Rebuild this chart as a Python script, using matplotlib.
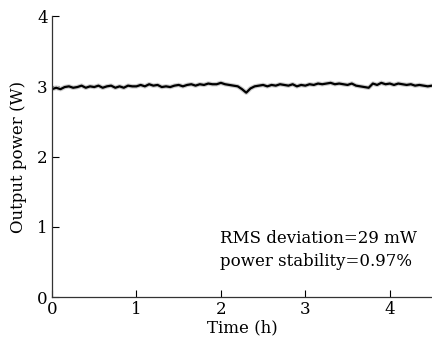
import numpy as np
import matplotlib
matplotlib.use("Agg")
import matplotlib.pyplot as plt

plt.rcParams['font.family'] = ['DejaVu Serif']
plt.rcParams['mathtext.fontset'] = 'dejavuserif'

# time in hours, 0.05 h step
time_h = np.arange(0, 4.5001, 0.05)
power_w = [
    2.96, 2.98, 2.96, 2.99, 3.00, 2.98, 2.99, 3.01, 2.98, 3.00,
    2.99, 3.01, 2.98, 3.00, 3.01, 2.98, 3.00, 2.98, 3.01, 3.00,
    3.00, 3.02, 3.00, 3.03, 3.01, 3.02, 2.99, 3.00, 2.99, 3.01,
    3.02, 3.00, 3.02, 3.03, 3.01, 3.03, 3.02, 3.04, 3.03, 3.03,
    3.05, 3.03, 3.02, 3.01, 3.00, 2.96, 2.91, 2.97, 3.00, 3.01,
    3.02, 3.00, 3.02, 3.01, 3.03, 3.02, 3.01, 3.03, 3.00, 3.02,
    3.01, 3.03, 3.02, 3.04, 3.03, 3.04, 3.05, 3.03, 3.04, 3.03,
    3.02, 3.04, 3.01, 3.00, 2.99, 2.98, 3.04, 3.02, 3.05, 3.03,
    3.04, 3.02, 3.04, 3.03, 3.02, 3.03, 3.01, 3.02, 3.01, 3.00,
    3.01,
]

fig = plt.figure(figsize=(4.32, 3.43), dpi=100)
ax = fig.add_axes([0.1204, 0.134, 0.8796, 0.819])

ax.plot(time_h, power_w, color='0.8', lw=3.2, solid_capstyle='butt')
ax.plot(time_h, power_w, color='black', lw=1.6)

ax.set_xlim(0, 4.5)
ax.set_ylim(0, 4)
ax.set_xticks([0, 1, 2, 3, 4])
ax.set_yticks([0, 1, 2, 3, 4])
ax.tick_params(direction='in', length=5, width=0.8, labelsize=12, pad=3)
ax.spines['top'].set_visible(False)
ax.spines['right'].set_visible(False)
for s in ['left', 'bottom']:
    ax.spines[s].set_linewidth(0.9)
    ax.spines[s].set_color('0.2')

ax.set_xlabel('Time (h)', fontsize=12, labelpad=1)
ax.set_ylabel('Output power (W)', fontsize=12, labelpad=7)
ax.text(1.99, 0.84, 'RMS deviation=29 mW', fontsize=12, va='center')
ax.text(1.99, 0.50, 'power stability=0.97%', fontsize=12, va='center')

fig.savefig('out.png', dpi=100)
